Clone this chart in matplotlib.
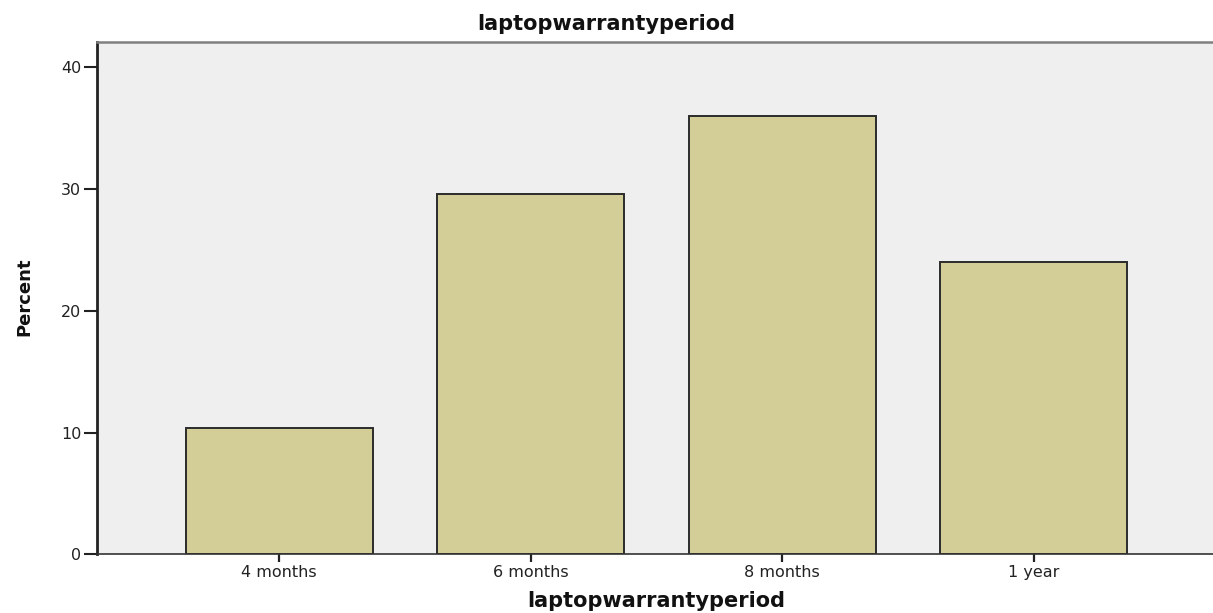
import matplotlib
matplotlib.use("Agg")
import matplotlib.pyplot as plt

categories = ["4 months", "6 months", "8 months", "1 year"]
percent = [10.4, 29.6, 36.0, 24.0]
yticks = [0, 10, 20, 30, 40]
title = "laptopwarrantyperiod"
xlabel = "laptopwarrantyperiod"
ylabel = "Percent"

W, H = 1213, 613
fig = plt.figure(figsize=(W / 100, H / 100), dpi=100)
fig.patch.set_facecolor("white")

left_px, right_px, top_px, bottom_px = 97, 1216, 41.7, 554.3
ax = fig.add_axes([left_px / W, 1 - bottom_px / H,
                   (right_px - left_px) / W, (bottom_px - top_px) / H])
ax.set_facecolor("#EFEFEF")

x = list(range(len(categories)))
ax.bar(x, percent, width=0.745, color="#D3CD98", edgecolor="#2b2b2b",
       linewidth=1.4, zorder=2)

ax.set_xlim(-0.725, 3.725)
ax.set_ylim(0, 42.1)
ax.set_xticks(x)
ax.set_xticklabels(categories)
ax.set_yticks(yticks)

ax.spines["right"].set_visible(False)
ax.spines["left"].set_linewidth(2.0)
ax.spines["left"].set_color("#222222")
ax.spines["bottom"].set_linewidth(1.2)
ax.spines["bottom"].set_color("#333333")
ax.spines["top"].set_linewidth(1.8)
ax.spines["top"].set_color("#808080")

ax.tick_params(axis="y", length=9.4, width=1.5, pad=2, labelsize=11.5,
               colors="#222222", labelcolor="#222222")
ax.tick_params(axis="x", length=5.8, width=1.6, pad=2, labelsize=11.5,
               colors="#222222", labelcolor="#222222")
for lab in ax.get_xticklabels() + ax.get_yticklabels():
    lab.set_family("DejaVu Sans")

fig.text(606.5 / W, 1 - 24 / H, title, ha="center", va="center",
         fontsize=15, fontweight="bold", family="DejaVu Sans", color="#111111")
fig.text(656.5 / W, 1 - 601 / H, xlabel, ha="center", va="center",
         fontsize=15, fontweight="bold", family="DejaVu Sans", color="#111111")
fig.text(24 / W, 1 - 297 / H, ylabel, ha="center", va="center", rotation=90,
         fontsize=13, fontweight="bold", family="DejaVu Sans", color="#111111")

fig.savefig("out.png", dpi=100, facecolor="white")
